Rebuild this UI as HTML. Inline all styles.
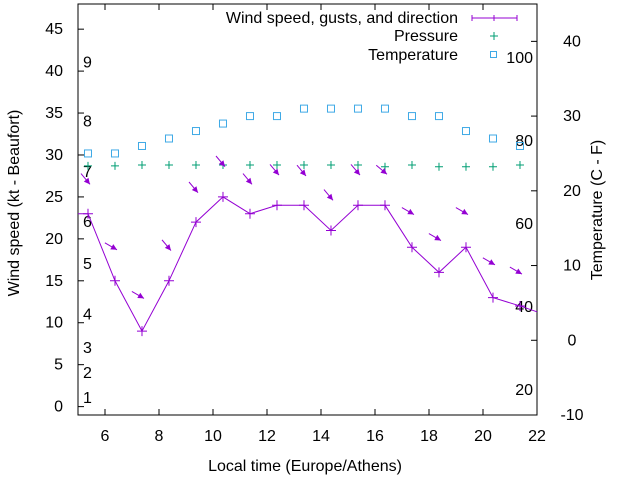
<!DOCTYPE html>
<html><head><meta charset="utf-8"><style>
body{margin:0;background:#fff}
svg{display:block;font-family:"Liberation Sans",sans-serif;font-size:16px}
</style></head><body>
<svg id="c" width="640" height="480" viewBox="0 0 640 480">
<g id="axes"></g><g id="marks"></g>
</svg>
<script>
const times=[5.37,6.37,7.37,8.37,9.37,10.37,11.37,12.37,13.37,14.37,15.37,16.37,17.37,18.37,19.37,20.37,21.37];
const windSpeed=[23,15,9,15,22,25,23,24,24,21,24,24,19,16,19,13,12];
const gusts=[26.5,18.7,12.9,18.6,25.5,28.6,26.5,27.6,27.5,24.6,27.6,27.7,22.9,19.8,22.9,16.9,15.8];
const windDir=[320,300,300,320,320,320,320,320,320,320,320,310,300,300,300,300,300];
const pressure=[28.7,28.7,28.8,28.8,28.8,28.8,28.8,28.8,28.8,28.8,28.8,28.6,28.8,28.6,28.6,28.6,28.8];
const temperature=[25,25,26,27,28,29,30,30,31,31,31,31,30,30,28,27,26];
const xTicks=[6,8,10,12,14,16,18,20,22];
const yTicks=[0,5,10,15,20,25,30,35,40,45];
const y2Ticks=[-10,0,10,20,30,40];
const beaufortKt=[1,4,7,11,17,22,28,34,41];
const beaufortLbl=["1","2","3","4","5","6","7","8","9"];
const fahrenheit=[20,40,60,80,100];

const L=78,R=537,T=4,B=415;
const X=v=>L+(v-5)*(R-L)/17;
const Y=v=>B-(v+1)*(B-T)/49;
const Y2=v=>B-(v+10)*(B-T)/55;
const NS="http://www.w3.org/2000/svg";
const axes=document.getElementById('axes'),marks=document.getElementById('marks');
function el(tag,attrs,parent,txt){const e=document.createElementNS(NS,tag);for(const k in attrs)e.setAttribute(k,attrs[k]);if(txt!==undefined)e.textContent=txt;parent.appendChild(e);return e;}

let e=el('rect',{x:L,y:T,width:R-L,height:B-T,fill:'none',stroke:'#000','stroke-width':1},axes);

xTicks.forEach(t=>{const x=X(t);
 let g=el('line',{x1:x,x2:x,y1:B,y2:B-6,stroke:'#000'},axes);
 g=el('line',{x1:x,x2:x,y1:T,y2:T+6,stroke:'#000'},axes);
 g=el('text',{x:x,y:B+26,'text-anchor':'middle'},axes,t);});
yTicks.forEach(t=>{const y=Y(t);
 let g=el('line',{x1:L,x2:L+6,y1:y,y2:y,stroke:'#000'},axes);
 g=el('text',{x:L-15,y:y+5,'text-anchor':'end'},axes,t);});
y2Ticks.forEach(t=>{const y=Y2(t);
 let g=el('line',{x1:R,x2:R-6,y1:y,y2:y,stroke:'#000'},axes);
 g=el('text',{x:R+35,y:y+5,'text-anchor':'middle'},axes,t);});
beaufortKt.forEach((k,i)=>{let g=el('text',{x:83,y:Y(k)+5},axes,beaufortLbl[i]);});
fahrenheit.forEach(f=>{let g=el('text',{x:533,y:Y2((f-32)*5/9)+5,'text-anchor':'end'},axes,f);});
e=el('text',{x:305,y:471,'text-anchor':'middle'},axes,'Local time (Europe/Athens)');
e=el('text',{transform:'translate(19,203) rotate(-90)','text-anchor':'middle'},axes,'Wind speed (kt - Beaufort)');
e=el('text',{transform:'translate(602,210) rotate(-90)','text-anchor':'middle'},axes,'Temperature (C - F)');

temperature.forEach((t,i)=>{let g=el('rect',{x:X(times[i])-3.5,y:Y2(t)-3.5,width:7,height:7,fill:'none',stroke:'#3fa9e6'},marks);});
pressure.forEach((p,i)=>{const x=X(times[i]),y=Y(p);let g=el('path',{d:`M${x-4} ${y}H${x+4}M${x} ${y-4}V${y+4}`,stroke:'#009e73','stroke-width':1},marks);});
let pts=times.map((t,i)=>X(t)+','+Y(windSpeed[i])).join(' ');
pts=L+','+Y(windSpeed[0])+' '+pts+' '+R+','+Y(11.3);
e=el('polyline',{points:pts,fill:'none',stroke:'#9400d3','stroke-width':1},marks);
windSpeed.forEach((w,i)=>{const x=X(times[i]),y=Y(w);let g=el('path',{d:`M${x-5} ${y}H${x+5}M${x} ${y-5}V${y+5}`,stroke:'#9400d3'},marks);});
gusts.forEach((gv,i)=>{const x=X(times[i])+2,y=Y(gv);const a=windDir[i]*Math.PI/180;const dx=Math.sin(a)*14,dy=-Math.cos(a)*14;
 const x0=x+dx,y0=y+dy;const ux=-dx/14,uy=-dy/14;
 let g=el('g',{},marks);
 el('line',{x1:x0,y1:y0,x2:x,y2:y,stroke:'#9400d3'},g);
 el('polygon',{points:`${x},${y} ${x-ux*6-uy*3},${y-uy*6+ux*3} ${x-ux*6+uy*3},${y-uy*6-ux*3}`,fill:'#9400d3'},g);});
e=el('text',{x:458,y:23,'text-anchor':'end'},axes,'Wind speed, gusts, and direction');
e=el('path',{d:'M472 18H517M472 15V21M494 15V21M517 15V21',stroke:'#9400d3'},axes);
e=el('text',{x:458,y:41,'text-anchor':'end'},axes,'Pressure');
e=el('path',{d:'M490 36H498M494 32V40',stroke:'#009e73'},axes);
e=el('text',{x:458,y:60,'text-anchor':'end'},axes,'Temperature');
e=el('rect',{x:490.5,y:51.5,width:6,height:6,fill:'none',stroke:'#3fa9e6'},axes);
</script>
</body></html>
